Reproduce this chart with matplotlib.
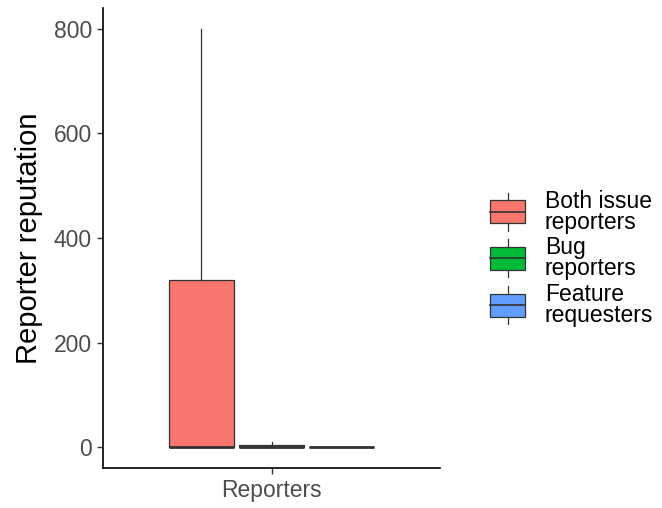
import matplotlib
matplotlib.use("Agg")
import matplotlib.pyplot as plt
from matplotlib.patches import Rectangle

plt.rcParams["font.family"] = ["Liberation Sans", "DejaVu Sans"]

groups = ["Both issue\nreporters", "Bug\nreporters", "Feature\nrequesters"]
colors = ["#F8766D", "#00BA38", "#619CFF"]
q1 = [0, 0, 0]
med = [0, 1, 0]
q3 = [320, 4, 1]
whislo = [0, 0, 0]
whishi = [800, 10, 1]
offsets = [-0.25, 0.0, 0.25]

fig = plt.figure(figsize=(6.62, 5.08), dpi=100)
ax = fig.add_axes([103 / 662, 40 / 508, 337 / 662, 460 / 508])

stats = []
for i in range(len(groups)):
    stats.append(dict(q1=q1[i], med=med[i], q3=q3[i], whislo=whislo[i],
                      whishi=whishi[i], fliers=[]))
bp = ax.bxp(stats, positions=[1 + o for o in offsets], widths=0.23,
            patch_artist=True, showcaps=False,
            boxprops=dict(edgecolor="#333333", linewidth=0.9),
            whiskerprops=dict(color="#333333", linewidth=0.9),
            medianprops=dict(color="#333333", linewidth=2.0))
for patch, c in zip(bp["boxes"], colors):
    patch.set_facecolor(c)

ax.set_xlim(0.4, 1.6)
ax.set_ylim(-40, 840)
ax.set_xticks([1])
ax.set_xticklabels(["Reporters"])
ax.set_yticks([0, 200, 400, 600, 800])
ax.tick_params(axis="both", color="#333333", labelcolor="#4d4d4d",
               labelsize=16.5, length=4, width=1, pad=4)
ax.set_ylabel("Reporter reputation", fontsize=21, color="black", labelpad=8)
for s in ["top", "right"]:
    ax.spines[s].set_visible(False)
for s in ["left", "bottom"]:
    ax.spines[s].set_linewidth(1.2)
    ax.spines[s].set_color("black")

# legend keys drawn as small boxplot glyphs
key_rows = [212, 258, 305]
for y, c, label in zip(key_rows, colors, groups):
    yf = 1 - y / 508
    h = 23 / 508
    w = 35 / 662
    x0 = 490 / 662
    xc = x0 + w / 2
    fig.add_artist(plt.Line2D([xc, xc], [yf - 19 / 508, yf + 19 / 508],
                              color="#333333", lw=0.9, zorder=1,
                              transform=fig.transFigure))
    fig.add_artist(Rectangle((x0, yf - h / 2), w, h, facecolor=c,
                             edgecolor="#333333", lw=0.9, zorder=2,
                             transform=fig.transFigure))
    fig.add_artist(plt.Line2D([x0, x0 + w], [yf, yf], color="#333333",
                              lw=1.2, zorder=3, transform=fig.transFigure))
    fig.text(545 / 662, yf, label, fontsize=16.5, va="center", ha="left",
             linespacing=0.92)

fig.savefig("out.png", dpi=100)
